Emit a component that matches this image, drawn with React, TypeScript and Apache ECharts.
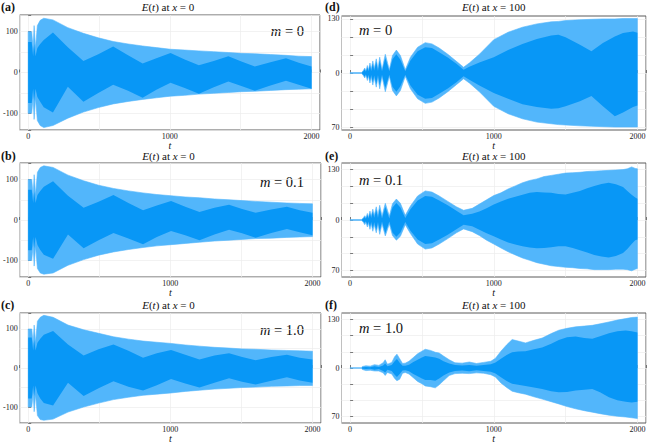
import React, { useEffect, useRef } from "react";
import * as echarts from "echarts";

// rows: [t, outer top, dark core top, dark core bottom, outer bottom]
const panelA: number[][] = [
  [0, 100, 75, -75, -100], [25, 100, 75, -75, -100], [35, 58, 40, -40, -60], [42, 115, 70, -70, -115],
  [52, 60, 40, -40, -62], [65, 115, 60, -60, -118], [85, 128, 70, -72, -130], [110, 133, 80, -85, -135],
  [175, 129, 98, -98, -130], [280, 110, 62, -35, -112], [390, 96, 28, -72, -97], [495, 85, 45, -50, -86],
  [600, 76, 64, -30, -77], [705, 70, 42, -45, -71], [808, 65, 22, -62, -66], [905, 61, 35, -42, -62],
  [1005, 57, 48, -25, -58], [1105, 55, 32, -38, -56], [1205, 53, 18, -52, -53], [1310, 51, 28, -36, -51],
  [1413, 49, 40, -22, -49], [1505, 47, 27, -33, -47], [1600, 46, 15, -45, -46], [1710, 44, 25, -32, -44],
  [1820, 42, 35, -20, -42], [1910, 40, 24, -30, -41], [2000, 39, 15, -40, -40],
];
const panelB: number[][] = [
  [0, 100, 75, -75, -100], [25, 100, 75, -75, -100], [35, 60, 42, -42, -62], [42, 112, 70, -70, -114],
  [52, 62, 42, -42, -64], [65, 118, 62, -62, -120], [85, 130, 72, -74, -131], [110, 134, 82, -86, -134],
  [175, 130, 96, -96, -131], [280, 111, 60, -36, -112], [390, 97, 30, -70, -98], [495, 86, 45, -50, -87],
  [600, 78, 62, -32, -79], [705, 72, 42, -46, -73], [808, 67, 24, -60, -68], [905, 63, 36, -42, -64],
  [1005, 60, 47, -27, -61], [1105, 57, 33, -38, -58], [1205, 55, 20, -50, -55], [1310, 52, 30, -36, -52],
  [1413, 50, 38, -24, -50], [1505, 48, 27, -33, -48], [1600, 46, 18, -44, -46], [1710, 44, 26, -32, -45],
  [1820, 42, 33, -22, -43], [1910, 41, 24, -30, -42], [2000, 40, 18, -38, -41],
];
const panelC: number[][] = [
  [0, 100, 78, -78, -100], [25, 100, 78, -78, -100], [35, 62, 45, -45, -64], [42, 110, 72, -72, -112],
  [52, 65, 45, -45, -68], [65, 120, 65, -65, -122], [85, 130, 75, -78, -132], [110, 135, 85, -90, -134],
  [175, 130, 95, -96, -131], [280, 110, 60, -38, -113], [390, 98, 32, -72, -100], [495, 89, 48, -52, -90],
  [600, 80, 60, -34, -81], [705, 74, 44, -48, -75], [808, 69, 26, -58, -70], [905, 66, 38, -44, -67],
  [1005, 63, 46, -28, -64], [1105, 59, 34, -40, -60], [1205, 56, 22, -50, -57], [1310, 53, 32, -38, -54],
  [1413, 51, 38, -26, -52], [1505, 49, 28, -35, -50], [1600, 48, 20, -42, -49], [1710, 46, 28, -33, -47],
  [1820, 45, 34, -24, -46], [1910, 44, 26, -32, -45], [2000, 43, 22, -38, -45],
];
const panelD: number[][] = [
  [0, 1, 0, 0, -1], [80, 1, 0, 0, -1], [92, 6, 4, -4, -6], [102, 12, 9, -9, -12], [110, 5, 3, -3, -5],
  [120, 18, 14, -14, -18], [128, 7, 4, -4, -7], [138, 24, 19, -19, -24], [147, 9, 5, -5, -9],
  [158, 29, 23, -23, -29], [168, 11, 6, -6, -11], [182, 34, 27, -27, -34], [194, 10, 5, -5, -10],
  [206, 38, 30, -30, -38], [222, 8, 4, -4, -8], [245, 45, 36, -36, -45], [273, 8, 4, -4, -8],
  [295, 42, 33, -33, -42], [322, 55, 45, -45, -55], [350, 42, 32, -32, -42], [384, 8, 4, -4, -8],
  [420, 38, 30, -30, -38], [470, 62, 52, -52, -62], [523, 73, 62, -62, -73], [570, 70, 60, -60, -70],
  [620, 60, 50, -50, -60], [680, 45, 37, -37, -45], [740, 28, 22, -22, -28], [790, 14, 8, -8, -14],
  [830, 24, 15, -16, -24], [900, 45, 25, -30, -45], [1000, 80, 38, -48, -80], [1100, 98, 55, -62, -98],
  [1200, 110, 70, -75, -110], [1300, 118, 82, -82, -118], [1400, 123, 90, -86, -122], [1450, 124, 92, -85, -124],
  [1500, 126, 86, -80, -125], [1600, 128, 68, -68, -127], [1680, 129, 52, -55, -128], [1760, 130, 72, -80, -129],
  [1843, 130, 88, -104, -130], [1900, 131, 96, -95, -130], [1970, 131, 100, -82, -130], [2000, 131, 97, -78, -130],
];
const panelE: number[][] = [
  [0, 1, 0, 0, -1], [80, 1, 0, 0, -1], [92, 6, 4, -4, -6], [102, 11, 8, -8, -12], [110, 6, 3, -3, -6],
  [120, 17, 13, -13, -18], [128, 7, 4, -4, -8], [138, 23, 18, -18, -24], [147, 10, 5, -5, -10],
  [158, 28, 22, -22, -29], [168, 12, 6, -6, -12], [182, 34, 26, -26, -33], [194, 12, 5, -5, -11],
  [206, 38, 29, -29, -37], [222, 10, 4, -4, -10], [245, 43, 34, -34, -41], [273, 10, 4, -4, -10],
  [295, 42, 32, -32, -40], [322, 54, 44, -43, -52], [350, 43, 32, -32, -42], [384, 12, 5, -5, -12],
  [420, 36, 28, -28, -35], [470, 62, 50, -50, -62], [523, 75, 62, -62, -75], [570, 72, 60, -60, -72],
  [620, 62, 50, -50, -62], [680, 48, 38, -38, -48], [740, 34, 24, -24, -33], [790, 25, 12, -12, -23],
  [850, 30, 16, -16, -30], [900, 41, 22, -25, -40], [950, 52, 30, -34, -52], [1000, 63, 40, -42, -62],
  [1050, 70, 48, -50, -72], [1100, 80, 55, -58, -82], [1150, 88, 60, -63, -90], [1200, 96, 65, -68, -98],
  [1250, 102, 70, -71, -104], [1300, 106, 72, -73, -110], [1350, 112, 71, -72, -114], [1400, 115, 70, -70, -118],
  [1450, 118, 67, -68, -120], [1500, 121, 66, -68, -122], [1550, 122, 70, -72, -123], [1600, 123, 75, -78, -125],
  [1650, 125, 82, -84, -126], [1700, 126, 88, -90, -128], [1750, 127, 93, -94, -128], [1800, 128, 96, -97, -128],
  [1850, 129, 92, -93, -127], [1900, 130, 85, -85, -127], [1930, 132, 75, -75, -128], [1960, 137, 65, -62, -131],
  [1985, 133, 58, -52, -127], [2000, 132, 55, -50, -125],
];
const panelF: number[][] = [
  [0, 1, 0, 0, -1], [80, 1, 0, 0, -1], [85, 4, 2, -2, -4], [110, 6, 3, -3, -7], [140, 5, 2, -2, -6],
  [170, 9, 5, -5, -8], [200, 7, 3, -3, -8], [230, 14, 7, -8, -13], [244, 22, 12, -12, -20], [260, 10, 5, -5, -12],
  [290, 15, 8, -8, -16], [310, 30, 18, -18, -28], [326, 37, 24, -24, -34], [345, 25, 14, -16, -30],
  [365, 12, 6, -7, -14], [384, 13, 6, -6, -12], [410, 18, 9, -9, -16], [440, 28, 16, -16, -26],
  [470, 38, 22, -22, -36], [500, 45, 28, -28, -42], [523, 50, 32, -32, -48], [560, 47, 30, -32, -50],
  [593, 42, 28, -34, -53], [620, 40, 25, -28, -45], [650, 32, 18, -20, -34], [690, 22, 12, -12, -20],
  [730, 14, 8, -8, -15], [780, 13, 7, -7, -14], [830, 16, 8, -9, -15], [880, 12, 6, -6, -13],
  [930, 15, 8, -8, -14], [980, 18, 10, -10, -18], [1012, 26, 15, -15, -24], [1050, 45, 25, -25, -40],
  [1090, 62, 35, -35, -52], [1128, 76, 42, -42, -62], [1170, 72, 44, -45, -66], [1221, 67, 45, -48, -70],
  [1280, 74, 50, -52, -77], [1337, 80, 55, -56, -83], [1400, 92, 65, -62, -90], [1453, 101, 75, -65, -96],
  [1510, 106, 82, -64, -103], [1570, 110, 84, -60, -109], [1630, 112, 80, -58, -114], [1686, 114, 78, -56, -118],
  [1740, 118, 85, -65, -122], [1802, 123, 93, -78, -126], [1860, 128, 98, -86, -129], [1919, 132, 100, -90, -131],
  [1960, 135, 98, -92, -133], [2000, 136, 95, -90, -135],
];

const panelLabels = ["(a)", "(b)", "(c)", "(d)", "(e)", "(f)"];
const titleTexts = ["0", "0", "0", "100", "100", "100"];
const massTexts = ["0", "0.1", "1.0", "0", "0.1", "1.0"];
const xLabelValues = [0, 1000, 2000];
const leftYLabelValues = [-100, 0, 100];
const rightYLabelValues = [-130, 0, 130];
const rightYLabelTexts = ["70", "0", "130"];
const rightYTickValues = [-130, -260 / 3, -130 / 3, 0, 130 / 3, 260 / 3, 130];

const SERIF = "Liberation Serif";
const DARK = "#0897F6";
const LIGHT = "#52B6FB";
const AXIS = "#5a5a5a";
const GRIDLINE = "#ececec";

const layout = [
  { left: 16, top: 15, width: 304, height: 115, yMax: 141, right: false, titleY: 7, labelY: 7, mY: 31 },
  { left: 16, top: 163, width: 305, height: 114, yMax: 141, right: false, titleY: 156, labelY: 156, mY: 181.5 },
  { left: 16, top: 313, width: 305, height: 114, yMax: 141, right: false, titleY: 305, labelY: 305, mY: 330 },
  { left: 341.5, top: 16, width: 304.5, height: 114, yMax: 137, right: true, titleY: 7, labelY: 7, mY: 30 },
  { left: 341.5, top: 163, width: 304.5, height: 114, yMax: 147, right: true, titleY: 156, labelY: 156, mY: 180 },
  { left: 341.5, top: 313, width: 304.5, height: 114, yMax: 147, right: true, titleY: 305, labelY: 305, mY: 328 },
];

const panels = [panelA, panelB, panelC, panelD, panelE, panelF];

function bandSeries(idx: number, rows: number[][]) {
  return {
    type: "custom",
    xAxisIndex: idx,
    yAxisIndex: idx,
    silent: true,
    clip: true,
    z: 2,
    encode: { x: 0, y: [1, 4] },
    data: rows,
    renderItem: (params: any, api: any) => {
      if (params.dataIndex !== 0) return null;
      const outer: number[][] = [];
      const core: number[][] = [];
      rows.forEach((r) => {
        outer.push(api.coord([r[0], r[1]]));
        core.push(api.coord([r[0], r[2]]));
      });
      for (let k = rows.length - 1; k >= 0; k--) {
        const r = rows[k];
        outer.push(api.coord([r[0], r[4]]));
        core.push(api.coord([r[0], r[3]]));
      }
      return {
        type: "group",
        children: [
          { type: "polygon", shape: { points: outer }, style: { fill: LIGHT, stroke: LIGHT, lineWidth: 0.6 } },
          { type: "polygon", shape: { points: core }, style: { fill: DARK, stroke: "none" } },
        ],
      };
    },
  };
}

function buildOption() {
  const grid = layout.map((g) => ({
    left: g.left,
    top: g.top,
    width: g.width,
    height: g.height,
    show: true,
    borderColor: AXIS,
    borderWidth: 1,
    backgroundColor: "transparent",
    containLabel: false,
  }));
  const xAxis = layout.map((g, i) => ({
    type: "value",
    gridIndex: i,
    min: -60,
    max: 2060,
    axisLine: { show: false },
    axisTick: { show: true, inside: true, length: 3, lineStyle: { color: AXIS, width: 0.8 } },
    axisLabel: {
      fontFamily: SERIF,
      fontSize: 8,
      color: "#222",
      margin: 2,
      formatter: (v: number) => (xLabelValues.indexOf(v) >= 0 ? String(v) : ""),
    },
    splitLine: { show: true, lineStyle: { color: GRIDLINE, width: 0.7 } },
    name: "t",
    nameLocation: "middle",
    nameGap: 10,
    nameMoveOverlap: false,
    nameTextStyle: { fontFamily: SERIF, fontStyle: "italic", fontSize: 10, color: "#111" },
  }));
  const yAxis = layout.map((g, i) => {
    const base: any = {
      type: "value",
      gridIndex: i,
      min: -g.yMax,
      max: g.yMax,
      axisLine: { show: false },
      splitLine: { show: true, lineStyle: { color: GRIDLINE, width: 0.7 } },
    };
    if (!g.right) {
      base.axisTick = { show: true, inside: true, length: 3, lineStyle: { color: AXIS, width: 0.8 } };
      base.axisLabel = {
        fontFamily: SERIF,
        fontSize: 8,
        color: "#222",
        margin: 2,
        formatter: (v: number) => (leftYLabelValues.indexOf(v) >= 0 ? String(v) : ""),
      };
    } else {
      base.axisTick = {
        show: true,
        inside: true,
        length: 3,
        customValues: rightYTickValues,
        lineStyle: { color: AXIS, width: 0.8 },
      };
      base.axisLabel = {
        fontFamily: SERIF,
        fontSize: 8,
        color: "#222",
        margin: 2,
        customValues: rightYLabelValues,
        formatter: (v: number) => {
          const k = rightYLabelValues.findIndex((c) => Math.abs(c - v) < 1e-6);
          return k >= 0 ? rightYLabelTexts[k] : "";
        },
      };
    }
    return base;
  });
  const series: any[] = panels.map((rows, i) => bandSeries(i, rows));

  const graphic: any[] = [];
  layout.forEach((g, i) => {
    const colX = g.right ? 325 : 1;
    graphic.push({
      type: "text",
      x: colX,
      y: g.labelY,
      style: {
        text: panelLabels[i],
        fontFamily: SERIF,
        fontWeight: "bold",
        fontSize: 12,
        fill: "#111",
        align: "left",
        verticalAlign: "middle",
      },
    });
    graphic.push({
      type: "text",
      x: g.left + g.width / 2,
      y: g.titleY,
      style: {
        text: "{i|E}({i|t}) at {i|x} = " + titleTexts[i],
        fontFamily: SERIF,
        fontSize: 11,
        fill: "#111",
        align: "center",
        verticalAlign: "middle",
        rich: { i: { fontFamily: SERIF, fontSize: 11, fontStyle: "italic", fill: "#111" } },
      },
    });
    graphic.push({
      type: "text",
      x: g.right ? 359 : 304,
      y: g.mY,
      style: {
        text: "{i|m} = " + massTexts[i],
        fontFamily: SERIF,
        fontSize: 14.5,
        fill: "#111",
        align: g.right ? "left" : "right",
        verticalAlign: "middle",
        rich: { i: { fontFamily: SERIF, fontSize: 14.5, fontStyle: "italic", fill: "#111" } },
      },
    });
  });

  return {
    animation: false,
    backgroundColor: "#ffffff",
    textStyle: { fontFamily: SERIF },
    grid,
    xAxis,
    yAxis,
    series,
    graphic,
  };
}

export default function App() {
  const ref = useRef<HTMLDivElement>(null);
  useEffect(() => {
    if (!ref.current) return;
    const chart = echarts.init(ref.current, null, { renderer: "svg", width: 649, height: 444 });
    chart.setOption(buildOption() as any);
    return () => chart.dispose();
  }, []);
  return (
    <div
      ref={ref}
      style={{ position: "fixed", left: 0, top: 0, width: 649, height: 444, background: "#fff" }}
    />
  );
}
